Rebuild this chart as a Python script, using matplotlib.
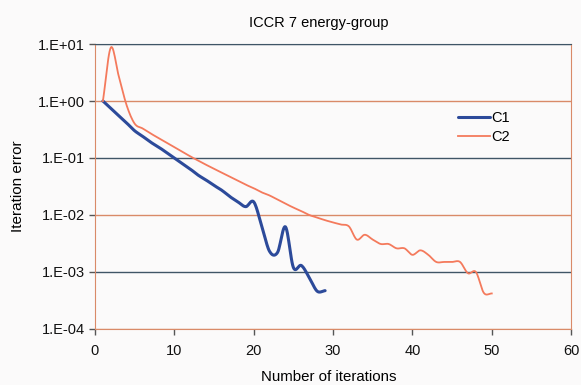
import numpy as np
import matplotlib
matplotlib.use('Agg')
import matplotlib.pyplot as plt

plt.rcParams['font.family'] = ['Liberation Sans', 'DejaVu Sans']

# iteration error
c1_iter = [1, 2, 3, 4, 5, 6, 7, 8, 9, 10, 11, 12, 13, 14, 15, 16, 17, 18, 19,
           20, 21, 22, 23, 24, 25, 26, 27, 28, 29]
c1_err = [1.0, 0.74, 0.55, 0.41, 0.30, 0.24, 0.19, 0.156, 0.125, 0.10, 0.08,
          0.064, 0.05, 0.041, 0.033, 0.027, 0.021, 0.017, 0.014,
          0.017, 0.0065, 0.0023, 0.0022, 0.0062, 0.0012, 0.0013, 0.0008,
          0.00046, 0.00047]

c2_iter = list(range(1, 51))
c2_err = [1.0, 8.7, 2.7, 0.83, 0.40, 0.33, 0.27, 0.224, 0.186, 0.155,
          0.129, 0.107, 0.090, 0.076, 0.065, 0.055, 0.047, 0.040, 0.034, 0.0295,
          0.025, 0.022, 0.0186, 0.0158, 0.0135, 0.0117, 0.0100, 0.0090, 0.0081, 0.0074,
          0.0068, 0.0063, 0.0037, 0.0045, 0.0037, 0.0031, 0.0031, 0.0026, 0.0026, 0.0020,
          0.0024, 0.0020, 0.0015, 0.0015, 0.0015, 0.0015, 0.00095, 0.0010, 0.00043, 0.00042]

y_ticks = [1e-4, 1e-3, 1e-2, 1e-1, 1e0, 1e1]
y_labels = ['1.E-04', '1.E-03', '1.E-02', '1.E-01', '1.E+00', '1.E+01']
x_ticks = [0, 10, 20, 30, 40, 50, 60]


def smooth(xs, ys, n=12):
    # Catmull-Rom through the points in log space, like Excel's smoothed line
    x = np.array(xs, dtype=float)
    y = np.log10(np.array(ys, dtype=float))
    px = np.concatenate([[2 * x[0] - x[1]], x, [2 * x[-1] - x[-2]]])
    py = np.concatenate([[2 * y[0] - y[1]], y, [2 * y[-1] - y[-2]]])
    outx, outy = [], []
    t = np.linspace(0, 1, n, endpoint=False)
    for i in range(1, len(px) - 2):
        for p, out in ((px, outx), (py, outy)):
            p0, p1, p2, p3 = p[i - 1], p[i], p[i + 1], p[i + 2]
            out.extend(0.5 * (2 * p1 + (-p0 + p2) * t
                              + (2 * p0 - 5 * p1 + 4 * p2 - p3) * t ** 2
                              + (-p0 + 3 * p1 - 3 * p2 + p3) * t ** 3))
    outx.append(x[-1])
    outy.append(y[-1])
    return np.array(outx), 10 ** np.array(outy)


bg = '#fbfafa'
dark = '#3f5566'
orange = '#d98a68'

fig = plt.figure(figsize=(5.81, 3.85), dpi=100, facecolor=bg)
ax = fig.add_axes([0.1635, 0.1455, 0.8195, 0.7402], facecolor=bg)

ax.set_yscale('log')
ax.set_xlim(0, 60)
ax.set_ylim(1e-4, 1e1)

for i, yv in enumerate(y_ticks):
    ax.axhline(yv, color=orange if i % 2 == 0 else dark, lw=1.0, zorder=1)

sx, sy = smooth(c1_iter, c1_err)
ax.plot(sx, sy, color='#2c4a9a', lw=2.2, label='C1', zorder=3,
        solid_capstyle='round')
sx, sy = smooth(c2_iter, c2_err)
ax.plot(sx, sy, color='#f47a5c', lw=1.3, label='C2', zorder=3)

ax.set_yticks(y_ticks)
ax.set_yticklabels(y_labels)
ax.minorticks_off()
ax.set_xticks(x_ticks)

for s in ['left', 'right', 'bottom']:
    ax.spines[s].set_color(orange)
ax.spines['top'].set_color(dark)
ax.tick_params(axis='both', length=4, width=1, color='#555555', labelsize=10.5,
               labelcolor='#111111')
ax.tick_params(axis='x', pad=7)

fig.text(0.5486, 0.941, 'ICCR 7 energy-group', fontsize=10.5,
         ha='center', va='center')
ax.set_xlabel('Number of iterations', fontsize=10.8)
ax.xaxis.set_label_coords(0.49, -0.145)
ax.set_ylabel('Iteration error', fontsize=11)
ax.yaxis.set_label_coords(-0.147, 0.5)

leg = ax.legend(loc='upper left', bbox_to_anchor=(0.735, 0.81), frameon=False,
                fontsize=10.5, handlelength=2.2, handletextpad=0.1,
                labelspacing=0.3)

fig.savefig('out.png', dpi=100, facecolor=bg)
